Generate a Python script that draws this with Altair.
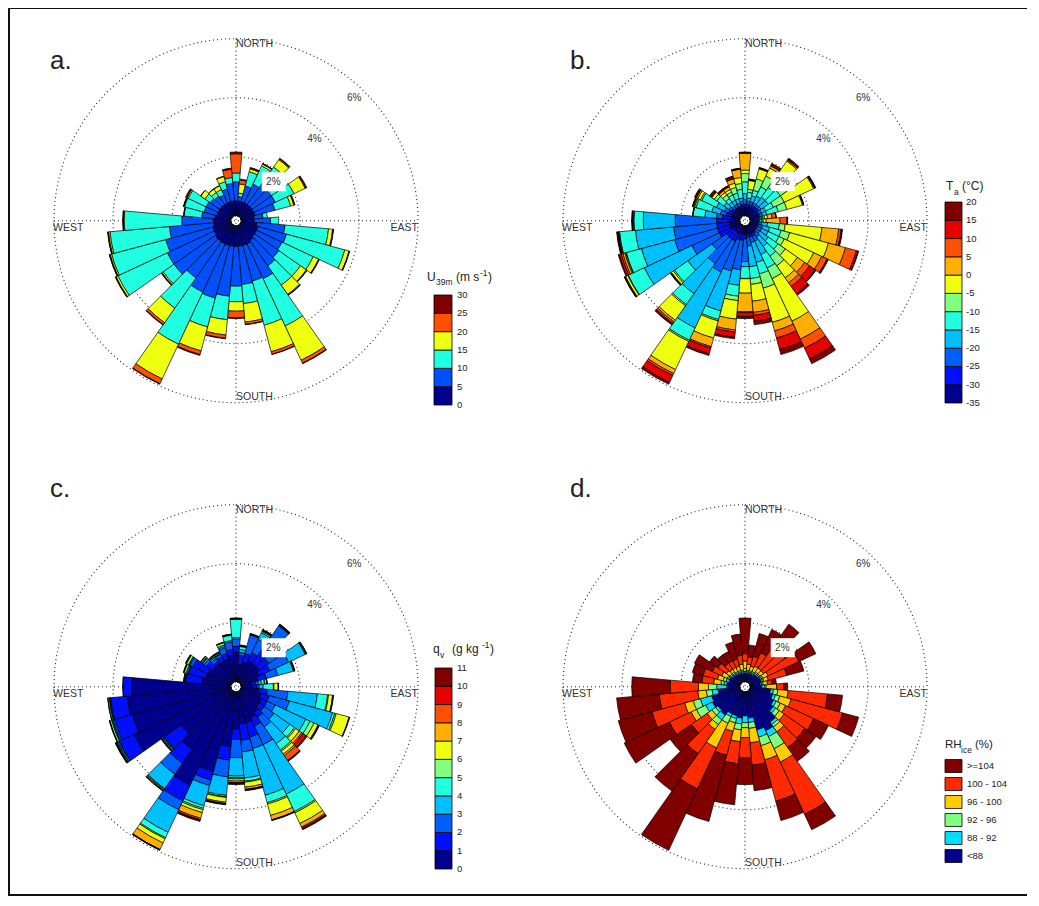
import math
import altair as alt
import pandas as pd

FONT = "Liberation Sans"

# ---------------- data ----------------
DIRECTIONS = list(range(0, 360, 10))
# total frequency (%) of each 10-degree sector (same for all four roses)
TOTAL = [2.16, 1.25, 1.70, 1.97, 2.42, 1.75, 2.48, 1.90, 0.90, 1.28,
         3.15, 3.82, 2.95, 2.77, 2.92, 5.18, 4.53, 3.37, 3.15, 3.85,
         4.56, 5.95, 4.15, 2.93, 4.35, 4.28, 4.20, 3.67, 1.62, 1.68,
         1.72, 1.30, 1.15, 1.15, 1.40, 1.62]

# a. wind speed classes, cumulative upper edges (%) of the inner classes
SPEED_BREAKS = [0, 5, 10, 15, 20, 25, 30]
SPEED_EDGES = [
    [0.50, 1.15, 1.45, 1.45, 2.10], [0.50, 0.65, 0.77, 1.08, 1.22],
    [0.50, 1.05, 1.55, 1.65, 1.68], [0.50, 1.20, 1.88, 1.95, 1.96],
    [0.50, 1.40, 2.05, 2.36, 2.40], [0.50, 1.30, 1.75, 1.75, 1.75],
    [0.50, 1.30, 2.00, 2.42, 2.45], [0.50, 1.20, 1.75, 1.86, 1.88],
    [0.45, 0.75, 0.90, 0.90, 0.90], [0.45, 1.00, 1.28, 1.28, 1.28],
    [0.55, 1.50, 2.98, 3.12, 3.14], [0.60, 1.60, 3.65, 3.80, 3.81],
    [0.60, 1.55, 2.72, 2.92, 2.94], [0.60, 1.60, 2.50, 2.74, 2.76],
    [0.65, 1.70, 2.50, 2.88, 2.91], [0.70, 2.00, 3.77, 5.05, 5.16],
    [0.70, 1.95, 3.50, 4.43, 4.52], [0.70, 2.00, 2.65, 3.28, 3.36],
    [0.71, 2.05, 2.58, 2.90, 3.12], [0.70, 2.40, 3.20, 3.72, 3.83],
    [0.70, 2.55, 3.56, 4.40, 4.53], [0.70, 2.50, 4.45, 5.75, 5.93],
    [0.70, 2.20, 3.45, 4.05, 4.13], [0.70, 2.40, 2.85, 2.90, 2.92],
    [0.65, 2.40, 4.25, 4.32, 4.34], [0.65, 2.30, 4.20, 4.25, 4.27],
    [0.60, 2.10, 4.12, 4.17, 4.19], [0.60, 1.67, 3.62, 3.65, 3.66],
    [0.55, 1.00, 1.60, 1.61, 1.62], [0.50, 0.95, 1.64, 1.66, 1.67],
    [0.50, 0.95, 1.62, 1.66, 1.69], [0.50, 0.90, 1.12, 1.29, 1.30],
    [0.50, 0.85, 1.00, 1.14, 1.15], [0.50, 0.80, 1.00, 1.14, 1.15],
    [0.50, 0.95, 1.20, 1.38, 1.40], [0.50, 1.10, 1.30, 1.30, 1.58],
]

# b. air temperature classes
TEMP_BREAKS = [-35, -30, -25, -20, -15, -10, -5, 0, 5, 10, 15, 20]
TEMP_EDGES = [
    [.30, .40, .55, .75, 1.15, 1.43, 1.55, 2.12, 2.12, 2.13],
    [.30, .40, .50, .60, .80, .90, 1.20, 1.22, 1.23, 1.24],
    [.30, .40, .50, .70, .90, 1.30, 1.65, 1.67, 1.68, 1.69],
    [.30, .40, .50, .75, 1.10, 1.50, 1.80, 1.88, 1.90, 1.95],
    [.30, .40, .50, .80, 1.20, 1.60, 2.30, 2.34, 2.36, 2.39],
    [.30, .40, .50, .80, 1.30, 1.60, 1.75, 1.75, 1.75, 1.75],
    [.30, .35, .45, .60, .90, 1.30, 2.40, 2.43, 2.45, 2.46],
    [.30, .35, .45, .60, 1.00, 1.30, 1.85, 1.87, 1.88, 1.89],
    [.25, .30, .35, .40, .45, .50, .60, .75, .88, .89],
    [.25, .28, .30, .33, .40, .45, .55, 1.02, 1.25, 1.27],
    [.25, .30, .40, .60, 1.00, 1.20, 2.45, 3.02, 3.10, 3.13],
    [.25, .30, .45, .70, 1.10, 1.40, 2.76, 3.36, 3.74, 3.80],
    [.25, .30, .45, .70, 1.10, 1.30, 2.40, 2.70, 2.90, 2.93],
    [.25, .30, .45, .80, 1.20, 1.50, 2.00, 2.30, 2.50, 2.72],
    [.30, .35, .50, .90, 1.30, 1.70, 2.20, 2.40, 2.55, 2.85],
    [.30, .40, .60, 1.10, 1.60, 2.00, 3.59, 4.26, 4.60, 5.00],
    [.30, .40, .60, 1.30, 1.70, 2.20, 3.40, 3.70, 3.95, 4.35],
    [.30, .40, .70, 1.40, 1.80, 2.00, 2.57, 2.95, 3.05, 3.25],
    [.30, .45, 1.22, 1.39, 1.79, 1.80, 2.29, 2.92, 2.95, 3.08],
    [.30, .50, 1.50, 2.03, 2.40, 2.55, 3.18, 3.55, 3.62, 3.80],
    [.30, .50, 1.60, 3.00, 3.30, 3.35, 3.95, 4.25, 4.30, 4.50],
    [.30, .60, 1.75, 3.84, 4.30, 4.35, 5.40, 5.55, 5.62, 5.88],
    [.30, .60, 1.60, 2.85, 3.30, 3.35, 3.95, 4.02, 4.08, 4.12],
    [.30, .60, 1.20, 2.20, 2.75, 2.80, 2.88, 2.90, 2.91, 2.92],
    [.35, .80, 1.82, 3.60, 4.20, 4.22, 4.30, 4.32, 4.33, 4.34],
    [.35, .80, 2.30, 3.47, 4.00, 4.02, 4.05, 4.12, 4.18, 4.25],
    [.35, .80, 2.26, 3.56, 4.10, 4.12, 4.14, 4.15, 4.16, 4.18],
    [.35, .80, 2.20, 3.28, 3.60, 3.61, 3.63, 3.65, 3.66, 3.66],
    [.30, .60, .80, 1.20, 1.60, 1.60, 1.60, 1.61, 1.61, 1.61],
    [.30, .50, .70, 1.00, 1.55, 1.60, 1.63, 1.66, 1.66, 1.67],
    [.30, .45, .60, .90, 1.45, 1.50, 1.60, 1.65, 1.66, 1.70],
    [.30, .40, .50, .70, 1.00, 1.10, 1.20, 1.22, 1.24, 1.28],
    [.30, .35, .45, .60, .75, .90, 1.00, 1.08, 1.10, 1.13],
    [.30, .35, .45, .60, .80, .90, 1.00, 1.10, 1.12, 1.14],
    [.30, .35, .45, .60, .80, 1.00, 1.15, 1.30, 1.33, 1.38],
    [.30, .40, .50, .60, .90, 1.10, 1.30, 1.58, 1.59, 1.60],
]

# c. specific humidity classes
HUM_BREAKS = [0, 1, 2, 3, 4, 5, 6, 7, 8, 9, 10, 11]
HUM_EDGES = [
    [1.00, 1.20, 1.45, 1.50, 2.12, 2.13, 2.14, 2.15, 2.15, 2.15],
    [.60, .90, 1.00, 1.10, 1.20, 1.22, 1.23, 1.24, 1.24, 1.24],
    [.70, 1.00, 1.65, 1.66, 1.67, 1.68, 1.69, 1.69, 1.69, 1.69],
    [.80, 1.10, 1.60, 1.85, 1.90, 1.92, 1.94, 1.95, 1.96, 1.96],
    [.80, 1.30, 2.35, 2.37, 2.38, 2.39, 2.40, 2.41, 2.41, 2.41],
    [.80, 1.20, 1.74, 1.75, 1.75, 1.75, 1.75, 1.75, 1.75, 1.75],
    [.70, 1.10, 1.80, 2.42, 2.44, 2.45, 2.46, 2.47, 2.47, 2.47],
    [.60, .90, 1.30, 1.85, 1.86, 1.87, 1.88, 1.89, 1.89, 1.89],
    [.35, .50, .60, .70, .80, .82, .88, .89, .89, .89],
    [.40, .55, .62, .75, 1.10, 1.12, 1.26, 1.27, 1.27, 1.27],
    [.60, .90, 1.60, 2.60, 2.95, 2.98, 3.12, 3.13, 3.14, 3.14],
    [.70, 1.00, 1.70, 3.22, 3.30, 3.35, 3.80, 3.81, 3.81, 3.81],
    [.80, 1.00, 1.30, 2.44, 2.60, 2.75, 2.90, 2.92, 2.93, 2.94],
    [.80, 1.00, 1.40, 2.05, 2.25, 2.30, 2.45, 2.55, 2.60, 2.72],
    [.90, 1.10, 1.50, 2.20, 2.45, 2.50, 2.62, 2.68, 2.88, 2.90],
    [1.00, 1.30, 2.00, 3.85, 4.50, 4.55, 4.95, 5.08, 5.12, 5.16],
    [1.10, 1.60, 2.00, 3.64, 3.90, 3.95, 4.35, 4.50, 4.51, 4.52],
    [1.10, 1.66, 2.05, 2.94, 3.05, 3.08, 3.25, 3.32, 3.34, 3.35],
    [1.28, 1.62, 2.24, 2.86, 2.92, 2.96, 3.03, 3.08, 3.10, 3.12],
    [1.87, 2.33, 2.90, 3.53, 3.58, 3.60, 3.76, 3.80, 3.82, 3.83],
    [2.81, 3.11, 3.30, 4.01, 4.10, 4.15, 4.25, 4.45, 4.50, 4.53],
    [3.52, 4.10, 4.43, 5.28, 5.48, 5.52, 5.68, 5.92, 5.93, 5.94],
    [2.43, 3.00, 3.45, 4.05, 4.08, 4.10, 4.13, 4.14, 4.14, 4.14],
    [2.10, 2.80, 2.82, 2.85, 2.87, 2.90, 2.91, 2.92, 2.92, 2.92],
    [3.65, 4.20, 4.22, 4.26, 4.28, 4.30, 4.32, 4.33, 4.34, 4.34],
    [3.47, 4.10, 4.15, 4.18, 4.20, 4.26, 4.27, 4.27, 4.27, 4.27],
    [3.54, 4.10, 4.12, 4.14, 4.15, 4.19, 4.19, 4.19, 4.19, 4.19],
    [3.37, 3.66, 3.66, 3.66, 3.66, 3.66, 3.66, 3.66, 3.66, 3.66],
    [1.00, 1.55, 1.56, 1.57, 1.58, 1.60, 1.61, 1.61, 1.61, 1.61],
    [.90, 1.50, 1.52, 1.55, 1.58, 1.65, 1.66, 1.67, 1.67, 1.67],
    [.90, 1.45, 1.55, 1.58, 1.60, 1.68, 1.70, 1.71, 1.71, 1.71],
    [.80, 1.05, 1.15, 1.20, 1.22, 1.24, 1.28, 1.29, 1.29, 1.29],
    [.80, .90, 1.00, 1.05, 1.08, 1.10, 1.13, 1.14, 1.14, 1.14],
    [.80, .95, 1.05, 1.07, 1.10, 1.13, 1.14, 1.14, 1.14, 1.14],
    [.80, 1.00, 1.20, 1.25, 1.30, 1.38, 1.39, 1.39, 1.39, 1.39],
    [.90, 1.10, 1.35, 1.40, 1.58, 1.60, 1.61, 1.61, 1.61, 1.61],
]

# d. relative humidity w.r.t. ice classes
RH_LABELS = [">=104", "100 - 104", "96 - 100", "92 - 96", "88 - 92", "<88"]
RH_EDGES = [
    [.30, .35, .45, .70, .95], [.30, .35, .40, .60, .85],
    [.30, .35, .40, .55, .90], [.30, .35, .40, .60, 1.10],
    [.35, .40, .45, .60, 1.40], [.35, .40, .45, .60, 1.50],
    [.40, .45, .50, .70, 1.85], [.40, .45, .50, .65, 1.30],
    [.35, .40, .45, .60, .75], [.40, .50, .55, .90, 1.15],
    [.70, .80, .95, 1.30, 2.64], [.80, .90, 1.05, 1.45, 3.26],
    [.90, 1.00, 1.15, 1.35, 2.40], [1.00, 1.10, 1.25, 1.45, 2.30],
    [1.30, 1.40, 1.50, 1.70, 2.35], [1.48, 1.70, 2.15, 2.65, 4.60],
    [1.35, 1.60, 1.90, 2.40, 3.85], [.90, 1.05, 1.25, 1.74, 2.50],
    [.82, 1.05, 1.22, 1.56, 2.24], [.90, 1.10, 1.30, 1.70, 2.45],
    [.85, .95, 1.10, 1.40, 2.24], [.85, .95, 1.20, 2.12, 3.65],
    [1.00, 1.20, 1.40, 1.60, 2.60], [.95, 1.05, 1.20, 1.40, 2.05],
    [1.05, 1.30, 1.65, 1.85, 2.66], [1.00, 1.40, 1.65, 1.95, 3.10],
    [.75, .95, 1.15, 1.44, 2.75], [.45, .79, 1.07, 1.41, 2.37],
    [.45, .55, .65, .90, 1.30], [.40, .50, .60, .80, 1.30],
    [.40, .45, .50, .70, 1.05], [.35, .40, .45, .60, .95],
    [.35, .40, .45, .55, .80], [.30, .35, .40, .55, .80],
    [.30, .35, .40, .55, .80], [.30, .35, .40, .60, .90],
]

RINGS = [2, 4, 6]
RING_LABELS = ["2%", "4%", "6%"]

# ---------------- styles ----------------
SPEED_COLORS = ["#00008F", "#0050FF", "#20FFDF", "#EFFF10", "#FF5000", "#800000"]
JET11 = ["#00008F", "#0010FF", "#0060FF", "#00BFFF", "#20FFDF", "#80FF80",
         "#EFFF10", "#FFAF00", "#FF5000", "#E60000", "#800000"]
RH_COLORS = ["#00008F", "#00DDFF", "#80FF80", "#FFCC00", "#FF2A00", "#800000"]

W, H = 1023, 888
R_IN, R_OUT = 5, 182
THETA = alt.Scale(type="linear", domain=[0, 360], range=[0, 2 * math.pi])
RADIUS = alt.Scale(type="linear", domain=[0, 6], range=[R_IN, R_OUT], zero=False, nice=False)
ONE = pd.DataFrame({"k": [0]})


def rose(edges, colors, cx, cy):
    rows = []
    for i, d in enumerate(DIRECTIONS):
        b = [0.0] + list(edges[i]) + [TOTAL[i]]
        for k, col in enumerate(colors):
            if b[k + 1] - b[k] > 0.005:
                rows.append(dict(t1=d - 5, t2=d + 5, r1=b[k], r2=b[k + 1], fill=col))
    df = pd.DataFrame(rows)
    return alt.Chart(df).mark_arc(stroke="black", strokeWidth=0.7).encode(
        theta=alt.Theta("t1:Q", scale=THETA, stack=False),
        theta2="t2:Q",
        radius=alt.Radius("r2:Q", scale=RADIUS, stack=False),
        radius2="r1:Q",
        color=alt.Color("fill:N", scale=None),
        x=alt.value(cx), y=alt.value(cy),
    )


def grid(cx, cy):
    ring_df = pd.DataFrame({"p": RINGS, "t1": [0] * 3, "t2": [360] * 3})
    rings = alt.Chart(ring_df).mark_arc(
        filled=False, stroke="#222", strokeWidth=1.1, strokeDash=[1, 3]
    ).encode(
        theta=alt.Theta("t1:Q", scale=THETA, stack=False),
        theta2="t2:Q",
        radius=alt.Radius("p:Q", scale=RADIUS, stack=False),
        x=alt.value(cx), y=alt.value(cy),
    )
    vline = alt.Chart(ONE).mark_rule(stroke="#222", strokeWidth=1.1, strokeDash=[1, 3]).encode(
        x=alt.value(cx), y=alt.value(cy - R_OUT), y2=alt.value(cy + R_OUT))
    hline = alt.Chart(ONE).mark_rule(stroke="#222", strokeWidth=1.1, strokeDash=[1, 3]).encode(
        x=alt.value(cx - R_OUT), x2=alt.value(cx + R_OUT), y=alt.value(cy))
    return [rings, vline, hline]


def txt(s, x, y, size=10.5, align="left", baseline="middle", color="#333"):
    return alt.Chart(ONE).mark_text(
        text=s, align=align, baseline=baseline, fontSize=size, font=FONT, color=color
    ).encode(x=alt.value(x), y=alt.value(y))


def labels(cx, cy):
    out = [
        txt("NORTH", cx, cy - 177),
        txt("SOUTH", cx, cy + 176),
        txt("WEST", cx - 183, cy + 7),
        txt("EAST", cx + 182, cy + 7, align="right"),
    ]
    # white box behind the 2% label
    a = math.radians(44)
    rb = R_IN + (R_OUT - R_IN) / 6 * 1.67
    bx, by = cx + rb * math.sin(a), cy - rb * math.cos(a)
    out.append(alt.Chart(ONE).mark_rect(color="white").encode(
        x=alt.value(bx - 12), x2=alt.value(bx + 12), y=alt.value(by - 9.5), y2=alt.value(by + 9.5)))
    lab_df = pd.DataFrame({"lab": RING_LABELS, "p": [1.65, 3.66, 5.6], "t": [44, 44, 44]})
    out.append(alt.Chart(lab_df).mark_text(fontSize=10, font=FONT, color="#333",
                                           align="center", baseline="middle").encode(
        theta=alt.Theta("t:Q", scale=THETA, stack=False),
        radius=alt.Radius("p:Q", scale=RADIUS, stack=False),
        text="lab:N",
        x=alt.value(cx), y=alt.value(cy),
    ))
    return out


def colorbar(breaks, colors, x0, x1, ytop, ybot, xlab):
    df = pd.DataFrame({"lo": breaks[:-1], "hi": breaks[1:], "fill": colors})
    ys = alt.Scale(domain=[breaks[0], breaks[-1]], range=[ybot, ytop], nice=False, zero=False)
    bars = alt.Chart(df).mark_rect(stroke="black", strokeWidth=0.8).encode(
        y=alt.Y("lo:Q", scale=ys, axis=None), y2="hi:Q",
        x=alt.value(x0), x2=alt.value(x1),
        color=alt.Color("fill:N", scale=None))
    ldf = pd.DataFrame({"v": breaks, "t": [str(b) for b in breaks]})
    labs = alt.Chart(ldf).mark_text(align="left", baseline="middle", fontSize=9.5,
                                    font=FONT, color="#222").encode(
        y=alt.Y("v:Q", scale=ys, axis=None), x=alt.value(xlab), text="t:N")
    return alt.layer(bars, labs)


def rh_legend(x0, x1, ytop, ybot, xlab):
    n = len(RH_LABELS)
    df = pd.DataFrame({
        "idx": list(range(n)),
        "lo": [i - 0.36 for i in range(n)],
        "hi": [i + 0.36 for i in range(n)],
        "lab": RH_LABELS,
        "fill": RH_COLORS[::-1],
    })
    ys = alt.Scale(domain=[0, n - 1], range=[ytop, ybot], nice=False, zero=False)
    sw = alt.Chart(df).mark_rect(stroke="black", strokeWidth=0.8).encode(
        y=alt.Y("lo:Q", scale=ys, axis=None), y2="hi:Q",
        x=alt.value(x0), x2=alt.value(x1),
        color=alt.Color("fill:N", scale=None))
    tl = alt.Chart(df).mark_text(align="left", baseline="middle", fontSize=9.5,
                                 font=FONT, color="#222").encode(
        y=alt.Y("idx:Q", scale=ys, axis=None), x=alt.value(xlab), text="lab:N")
    return alt.layer(sw, tl)


CENTERS = {"a": (228, 212.7), "b": (737, 212.7), "c": (228, 678.7), "d": (737, 678.7)}

layers = []
for key, edges, cols in [("a", SPEED_EDGES, SPEED_COLORS), ("b", TEMP_EDGES, JET11),
                         ("c", HUM_EDGES, JET11), ("d", RH_EDGES, RH_COLORS)]:
    cx, cy = CENTERS[key]
    layers += grid(cx, cy)
    layers.append(rose(edges, cols, cx, cy))
    layers += labels(cx, cy)

# panel letters
for key, (x, y) in {"a": (42, 61), "b": (562, 61), "c": (42, 489), "d": (562, 489)}.items():
    layers.append(txt(key + ".", x, y, size=26, baseline="alphabetic", color="#222"))

# colorbars / legend
layers.append(colorbar(SPEED_BREAKS, SPEED_COLORS, 426, 444, 287, 397, 449))
layers.append(colorbar(TEMP_BREAKS, JET11, 937, 954, 194, 395, 958))
layers.append(colorbar(HUM_BREAKS, JET11, 427, 444, 660, 861, 449))
layers.append(rh_legend(937, 954, 758, 848, 959))

# legend titles (main text, subscripts, superscripts)
layers += [
    txt("U", 419, 273, 12, baseline="alphabetic", color="#222"),
    txt("39m", 428, 277, 8.5, baseline="alphabetic", color="#222"),
    txt("(m s", 448, 273, 12, baseline="alphabetic", color="#222"),
    txt("-1", 472, 268, 8.5, baseline="alphabetic", color="#222"),
    txt(")", 480, 273, 12, baseline="alphabetic", color="#222"),

    txt("T", 938, 182, 12, baseline="alphabetic", color="#222"),
    txt("a", 946, 187, 8.5, baseline="alphabetic", color="#222"),
    txt("(°C)", 954, 182, 12, baseline="alphabetic", color="#222"),

    txt("q", 425, 645, 12, baseline="alphabetic", color="#222"),
    txt("v", 432, 650, 8.5, baseline="alphabetic", color="#222"),
    txt("(g kg", 444, 645, 12, baseline="alphabetic", color="#222"),
    txt("-1", 474, 640, 8.5, baseline="alphabetic", color="#222"),
    txt(")", 482, 645, 12, baseline="alphabetic", color="#222"),

    txt("RH", 937, 740, 11.5, baseline="alphabetic", color="#222"),
    txt("ice", 953, 745, 8.5, baseline="alphabetic", color="#222"),
    txt("(%)", 967, 740, 11.5, baseline="alphabetic", color="#222"),
]

# figure frame (left, bottom and top edges); the right edge is kept blank
layers += [
    alt.Chart(ONE).mark_rule(stroke="#111", strokeWidth=2).encode(
        x=alt.value(1), y=alt.value(0), y2=alt.value(H)),
    alt.Chart(ONE).mark_rule(stroke="#111", strokeWidth=2).encode(
        x=alt.value(0), x2=alt.value(W - 3), y=alt.value(H - 1)),
    alt.Chart(ONE).mark_rule(stroke="#111", strokeWidth=1).encode(
        x=alt.value(0), x2=alt.value(W - 3), y=alt.value(0.5)),
    alt.Chart(ONE).mark_rule(stroke="white", strokeWidth=6).encode(
        x=alt.value(W - 1), y=alt.value(0), y2=alt.value(H)),
]

chart = alt.layer(*layers).resolve_scale(y="independent").properties(
    width=W, height=H, padding=0,
    autosize=alt.AutoSizeParams(type="none"),
    background="white",
    view=alt.ViewBackground(stroke="transparent", strokeWidth=0),
).configure_view(stroke="transparent", strokeWidth=0)

chart.save("out.html", embed_options={"renderer": "svg", "actions": False})
